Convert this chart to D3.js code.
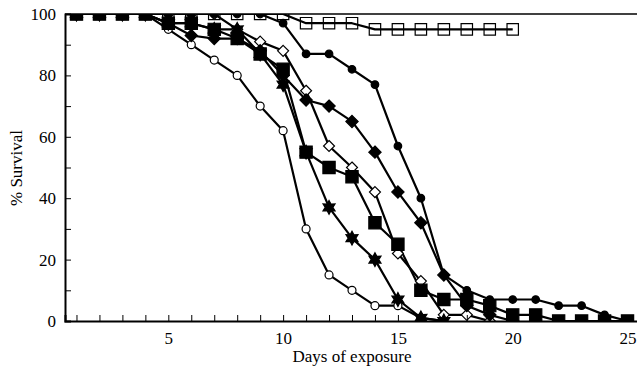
<!DOCTYPE html>
<html><head><meta charset="utf-8">
<script src="https://cdn.jsdelivr.net/npm/d3@7"></script>
<style>body{margin:0;background:#fff}svg{display:block}svg text{font-family:'Liberation Serif','Times New Roman',serif !important}</style>
</head><body><div id="chart"></div>
<script>
const days = d3.range(1, 26);
const openSquares  = [100,100,100,100,100,100,100,100,100,100,97,97,97,95,95,95,95,95,95,95];
const filledCircles= [100,100,100,100,100,100,100,100,100,97,87,87,82,77,57,40,15,10,7,7,7,5,5,2,0];
const filledDiamonds=[100,100,100,100,97,93,92,92,88,80,72,70,65,55,42,32,15,5,2,0];
const openDiamonds = [100,100,100,100,100,100,100,95,91,88,75,57,50,42,22,13,2,2,0];
const filledSquares= [100,100,100,100,97,97,95,92,87,82,55,50,47,32,25,10,7,7,5,2,2,0,0,0,0];
const stars        = [100,100,100,100,97,97,95,95,87,77,55,37,27,20,7,1,0];
const openCircles  = [100,100,100,100,95,90,85,80,70,62,30,15,10,5,5,1,0];
const xTicks = [5,10,15,20,25];
const yTicks = [0,20,40,60,80,100];

const W = 637, H = 370;
const m = {left:65, top:14, right:-2, bottom:49};
const x = d3.scaleLinear().domain([0.5, 25.5]).range([m.left, W - m.right]);
const y = d3.scaleLinear().domain([0, 100]).range([H - m.bottom, m.top]);
const FONT = "'Liberation Serif', 'Times New Roman', serif";

const svg = d3.select("#chart").append("svg").attr("width", W).attr("height", H)
  .style("font-family", FONT);

svg.append("defs").append("clipPath").attr("id","clip")
  .append("rect").attr("x", m.left).attr("y", m.top)
  .attr("width", W - m.right - m.left).attr("height", H - m.bottom - m.top);

// six-point star symbol
const star6 = {draw(ctx, size){
  const R = Math.sqrt(size) * 0.75, r = R * 0.55;
  for (let i = 0; i < 12; i++){
    const a = -Math.PI/2 + i*Math.PI/6, rr = i%2 ? r : R;
    const px = rr*Math.cos(a), py = rr*Math.sin(a);
    if (i===0) ctx.moveTo(px,py); else ctx.lineTo(px,py);
  }
  ctx.closePath();
}};
// regular diamond (square rotated 45 degrees)
const diamond = {draw(ctx, size){
  const h = Math.sqrt(size/2);
  ctx.moveTo(0,-h); ctx.lineTo(h,0); ctx.lineTo(0,h); ctx.lineTo(-h,0); ctx.closePath();
}};

const series = [
  {vals: openSquares,   sym: d3.symbolSquare,  size: 130, fill: "none"},
  {vals: openCircles,   sym: d3.symbolCircle,  size: 50,  fill: "#fff"},
  {vals: openDiamonds,  sym: diamond,          size: 60,  fill: "#fff"},
  {vals: filledCircles, sym: d3.symbolCircle,  size: 45,  fill: "#000"},
  {vals: filledDiamonds,sym: diamond,          size: 75,  fill: "#000"},
  {vals: stars,         sym: star6,            size: 85,  fill: "#000"},
  {vals: filledSquares, sym: d3.symbolSquare,  size: 150, fill: "#000"}
];

const plot = svg.append("g").attr("clip-path","url(#clip)");
const line = d3.line().x((d,i)=>x(days[i])).y(d=>y(d));

series.forEach(s => {
  plot.append("path").datum(s.vals).attr("d", line)
    .attr("fill","none").attr("stroke","#000").attr("stroke-width",2.2).attr("stroke-linejoin","round");
});
series.forEach(s => {
  plot.selectAll(null).data(s.vals).enter().append("path")
    .attr("transform",(d,i)=>`translate(${x(days[i])},${y(d)})`)
    .attr("d", d3.symbol().type(s.sym).size(s.size))
    .attr("fill", s.fill).attr("stroke","#000").attr("stroke-width",1.2);
});

// axes (ticks inward)
const xAxis = svg.append("g").attr("transform",`translate(0,${H - m.bottom})`)
  .call(d3.axisBottom(x).tickValues(d3.range(1,26)).tickSize(-6).tickFormat(d => xTicks.includes(d) ? d : ""))
  .attr("font-family", FONT);
xAxis.select(".domain").attr("stroke-width",2);
xAxis.selectAll(".tick line").attr("stroke-width",1);
xAxis.selectAll("text").attr("font-size",17).attr("fill","#000").attr("dy","1.15em");

const yAxis = svg.append("g").attr("transform",`translate(${m.left},0)`)
  .call(d3.axisLeft(y).tickValues(d3.range(0,101,10)).tickSize(-6).tickFormat(d => yTicks.includes(d) ? d : ""))
  .attr("font-family", FONT);
yAxis.select(".domain").attr("stroke-width",2);
yAxis.selectAll("text").attr("font-size",17).attr("fill","#000").attr("x",-9);

// top frame
svg.append("line").attr("x1", m.left).attr("x2", W).attr("y1", m.top).attr("y2", m.top)
  .attr("stroke","#000").attr("stroke-width",1.5);

svg.append("text").attr("x", 352).attr("y", 362).attr("text-anchor","middle")
  .attr("font-size",17).text("Days of exposure");
svg.append("text").attr("transform","translate(22,168) rotate(-90)").attr("text-anchor","middle")
  .attr("font-size",17).text("% Survival");
</script></body></html>
